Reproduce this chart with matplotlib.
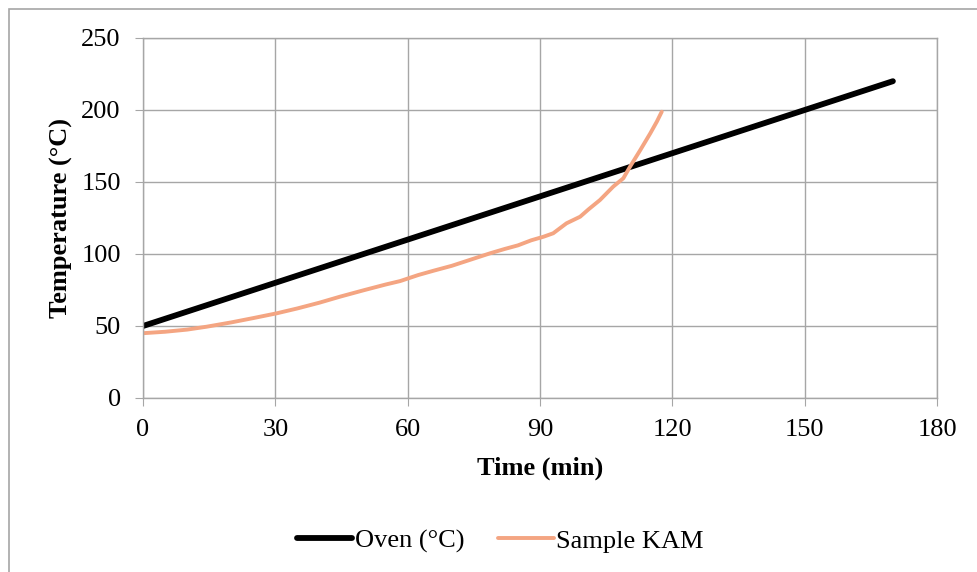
import matplotlib.pyplot as plt
from matplotlib.patches import Rectangle

# oven ramp (straight line)
oven_time = [0, 170]
oven_temp = [50, 220]

# sample KAM
sample_time = [0, 5, 10, 14.4, 20, 25, 30.3, 35, 40, 44.7, 50, 55, 58.3, 62.4, 66, 70,
               74, 78.7, 82, 85, 88, 90.8, 93, 96, 99.1, 101, 103.6, 106.6, 108.9,
               110.4, 112.7, 115, 116.5, 117.6]
sample_temp = [45, 46, 47.5, 49.5, 52.5, 55.5, 58.8, 62.2, 66.2, 70.4, 74.8, 78.8, 81.2, 85.4,
               88.5, 91.8, 95.8, 100.5, 103.5, 106, 109.5, 112, 114.4, 121.3, 125.9,
               131, 137.5, 146.8, 152.6, 160.6, 172, 183.8, 192, 198.8]

x_ticks = [0, 30, 60, 90, 120, 150, 180]
y_ticks = [0, 50, 100, 150, 200, 250]

plt.rcParams['font.family'] = ['Liberation Serif', 'DejaVu Serif']
grid_color = '#A6A6A6'

fig = plt.figure(figsize=(9.77, 5.72), dpi=100)
ax = fig.add_axes([143 / 977, 1 - 398 / 572, (937 - 143) / 977, (398 - 38) / 572])

ax.plot(oven_time, oven_temp, color='black', linewidth=4.2, solid_capstyle='round',
        label='Oven (°C)')
ax.plot(sample_time, sample_temp, color='#F4A582', linewidth=2.8, solid_capstyle='round',
        label='Sample KAM')

ax.set_xlim(0, 180)
ax.set_ylim(0, 250)
ax.set_xticks(x_ticks)
ax.set_yticks(y_ticks)
ax.grid(True, color=grid_color, linewidth=1)
ax.set_axisbelow(True)
for s in ax.spines.values():
    s.set_color(grid_color)
    s.set_linewidth(1)
ax.tick_params(axis='both', direction='out', length=6, color=grid_color, labelsize=19)
ax.tick_params(axis='x', pad=9)
ax.tick_params(axis='y', pad=10)

ax.set_xlabel('Time (min)', fontsize=19, fontweight='bold', labelpad=11)
ax.set_ylabel('Temperature (°C)', fontsize=19, fontweight='bold', labelpad=6)

fig.legend(loc='center', bbox_to_anchor=(0.512, 1 - 541 / 572), ncol=2, frameon=False,
           fontsize=19, handlelength=2.1, handletextpad=0.1, columnspacing=1.3)

# outer chart border (only left and top visible in the crop)
fig.patches.append(Rectangle((9 / 977, -0.1), 1.2, 1.1 - 9 / 572,
                             transform=fig.transFigure, fill=False,
                             edgecolor=grid_color, linewidth=1.2))

fig.savefig('out.png', dpi=100)
